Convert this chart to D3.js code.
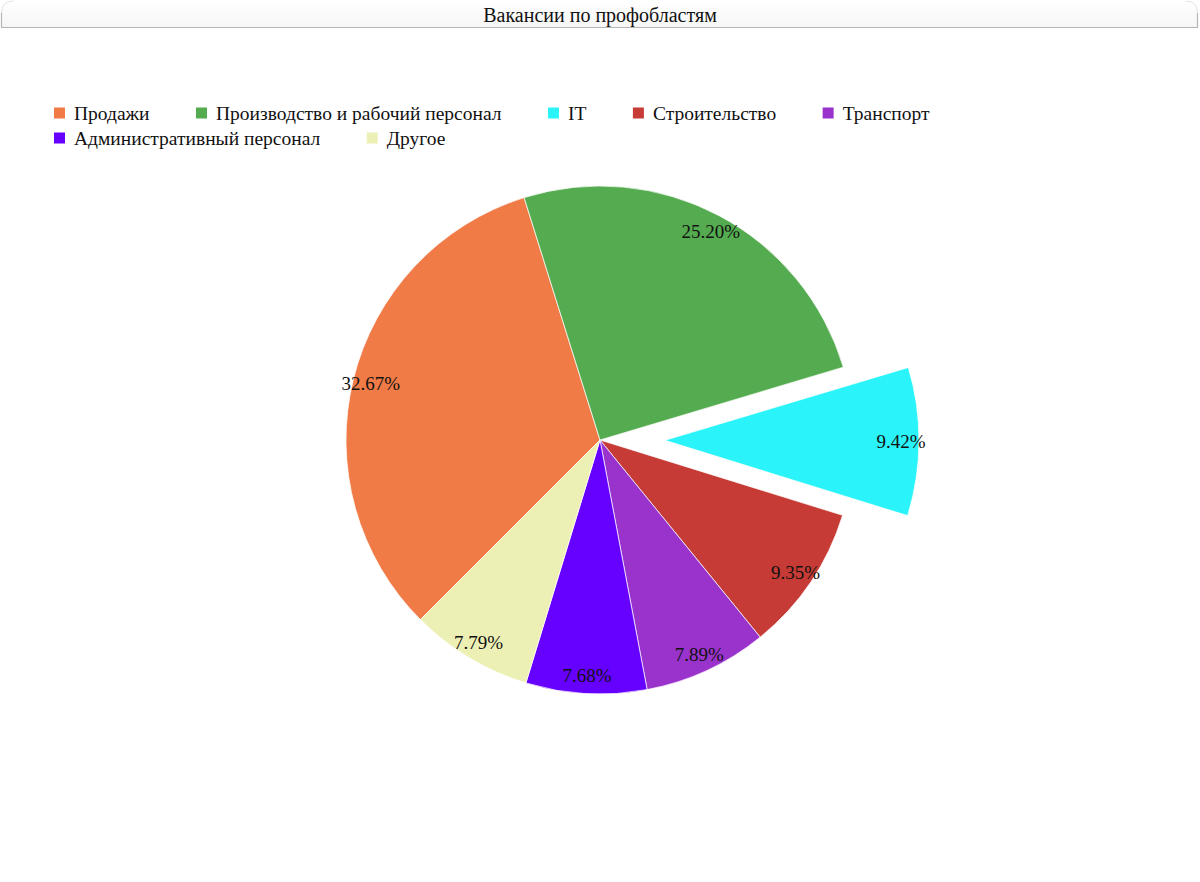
<!DOCTYPE html>
<html>
<head>
<meta charset="utf-8">
<script src="https://cdn.jsdelivr.net/npm/d3@7"></script>
<style>
  html, body { margin: 0; padding: 0; background: #fff; }
  svg { display: block; font-family: "Liberation Serif", "Times New Roman", serif; }
</style>
</head>
<body>
<svg id="chart" width="1200" height="882"></svg>
<script>
const title = "Вакансии по профобластям";
const categories = ["Продажи", "Производство и рабочий персонал", "IT", "Строительство", "Транспорт", "Административный персонал", "Другое"];
const values = [32.67, 25.20, 9.42, 9.35, 7.89, 7.68, 7.79];
const colors = ["#F07B47", "#55AC50", "#2AF4F9", "#C63B35", "#9933CC", "#6600FF", "#EDF0B4"];
const exploded = ["IT"];

const W = 1200, H = 882;
const svg = d3.select("#chart");

// title bar
const defs = svg.append("defs");
const grad = defs.append("linearGradient").attr("id", "tg").attr("x1", 0).attr("y1", 0).attr("x2", 0).attr("y2", 1);
grad.append("stop").attr("offset", "0%").attr("stop-color", "#ffffff");
grad.append("stop").attr("offset", "100%").attr("stop-color", "#f6f6f6");
const bx0 = 1.5, bx1 = 1197.5, by0 = 1, by1 = 27.5, br = 12;
svg.append("path")
  .attr("d", `M${bx0},${by1} L${bx0},${by0 + br} Q${bx0},${by0} ${bx0 + br},${by0} L${bx1 - br},${by0} Q${bx1},${by0} ${bx1},${by0 + br} L${bx1},${by1} Z`)
  .attr("fill", "url(#tg)").attr("stroke", "none");
svg.append("path")
  .attr("d", `M${bx0},${by0 + br} L${bx0},${by1} L${bx1},${by1} L${bx1},${by0 + br}`)
  .attr("fill", "none").attr("stroke", "#b5b5b5").attr("stroke-width", 1.2);
svg.append("path")
  .attr("d", `M${bx0},${by0 + br} Q${bx0},${by0} ${bx0 + br},${by0}`)
  .attr("fill", "none").attr("stroke", "#e4e4e4").attr("stroke-width", 1);
svg.append("path")
  .attr("d", `M${bx1 - br},${by0} Q${bx1},${by0} ${bx1},${by0 + br}`)
  .attr("fill", "none").attr("stroke", "#e4e4e4").attr("stroke-width", 1);
svg.append("text")
  .attr("x", W / 2).attr("y", 22)
  .attr("text-anchor", "middle")
  .attr("font-size", 20)
  .attr("fill", "#111")
  .text(title);

// legend
const color = d3.scaleOrdinal().domain(categories).range(colors);
const legend = svg.append("g");
const lx0 = 54, ly0 = 113, rowH = 25, maxX = 1150, sq = 11, gap = 9, pad = 46.5;
let lx = lx0, ly = ly0;
categories.forEach(c => {
  const g = legend.append("g");
  const t = g.append("text").attr("font-size", 19.5).attr("fill", "#111")
    .attr("dominant-baseline", "central").text(c);
  const tw = t.node().getComputedTextLength();
  const w = sq + gap + tw;
  if (lx + w > maxX && lx > lx0) { lx = lx0; ly += rowH; }
  g.attr("transform", `translate(${lx},${ly})`);
  g.insert("rect", "text").attr("x", 0).attr("y", -sq / 2).attr("width", sq).attr("height", sq)
    .attr("fill", color(c));
  t.attr("x", sq + gap).attr("y", 0.5);
  lx += w + pad;
});

// pie
const cx = 600, cy = 440, R = 254, explode = 65, labelR = 236;
const start = -135 * Math.PI / 180;
const pie = d3.pie().sort(null).value(d => d.v).startAngle(start).endAngle(start + 2 * Math.PI);
const data = categories.map((c, i) => ({ c, v: values[i] }));
const arcs = pie(data);
const arc = d3.arc().innerRadius(0).outerRadius(R);
const g = svg.append("g").attr("transform", `translate(${cx},${cy})`);

function offset(d) {
  if (!exploded.includes(d.data.c)) return [0, 0];
  const a = (d.startAngle + d.endAngle) / 2;
  return [explode * Math.sin(a), -explode * Math.cos(a)];
}

g.selectAll("path.slice").data(arcs).enter().append("path")
  .attr("class", "slice")
  .attr("d", arc)
  .attr("transform", d => { const o = offset(d); return `translate(${o[0]},${o[1]})`; })
  .attr("fill", d => color(d.data.c))
  .attr("stroke", "#ffffff").attr("stroke-opacity", 0.7).attr("stroke-width", 1);

g.selectAll("text.lbl").data(arcs).enter().append("text")
  .attr("class", "lbl")
  .attr("x", d => { const a = (d.startAngle + d.endAngle) / 2; return offset(d)[0] + labelR * Math.sin(a); })
  .attr("y", d => { const a = (d.startAngle + d.endAngle) / 2; return offset(d)[1] - labelR * Math.cos(a); })
  .attr("text-anchor", "middle")
  .attr("dominant-baseline", "central")
  .attr("font-size", 19)
  .attr("fill", "#111")
  .text(d => d.data.v.toFixed(2) + "%");
</script>
</body>
</html>
